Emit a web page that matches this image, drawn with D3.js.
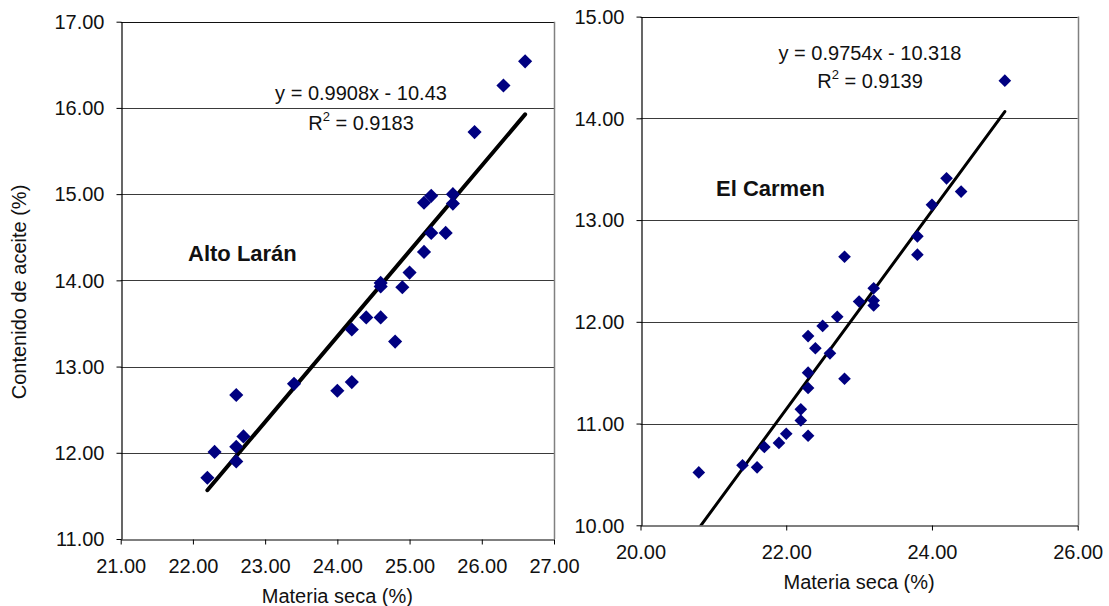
<!DOCTYPE html>
<html>
<head>
<meta charset="utf-8">
<script src="https://cdn.jsdelivr.net/npm/d3@7"></script>
<style>
  html, body { margin: 0; padding: 0; background: #fff; }
  svg { display: block; font-family: "Liberation Sans", Arial, sans-serif; }
</style>
</head>
<body>
<svg id="chart" width="1109" height="606"></svg>
<script>
// Alto Larán: dry matter (%) vs oil content (%)
const altoX = [26.6, 26.3, 25.9, 25.2, 25.3, 25.6, 25.6, 25.3, 25.5, 25.2, 25.0, 24.6, 24.6, 24.9,
               24.4, 24.6, 24.2, 24.8, 23.4, 24.0, 24.2, 22.6, 22.7, 22.6, 22.3, 22.6, 22.2];
const altoY = [16.54, 16.26, 15.72, 14.90, 14.98, 15.00, 14.89, 14.55, 14.55, 14.33, 14.09, 13.97, 13.93, 13.92,
               13.57, 13.57, 13.43, 13.29, 12.80, 12.72, 12.82, 12.67, 12.19, 12.07, 12.01, 11.90, 11.71];
// El Carmen: dry matter (%) vs oil content (%)
const carmenX = [25.0, 24.2, 24.4, 24.0, 23.8, 23.8, 22.8, 23.2, 23.2, 23.2, 23.0, 22.7, 22.5, 22.3,
                 22.4, 22.6, 22.3, 22.8, 22.3, 22.2, 22.2, 22.3, 22.0, 21.9, 21.7, 21.4, 21.6, 20.8];
const carmenY = [14.37, 13.41, 13.28, 13.15, 12.84, 12.66, 12.64, 12.33, 12.21, 12.16, 12.20, 12.05, 11.96, 11.86,
                 11.74, 11.69, 11.50, 11.44, 11.35, 11.14, 11.03, 10.88, 10.90, 10.81, 10.77, 10.59, 10.57, 10.52];

// Linear trend coefficients (slope, intercept) and R²
const altoFit = [0.9908, -10.43, 0.9183];
const carmenFit = [0.9754, -10.318, 0.9139];

// Axis ticks
const altoXTicks = [21, 22, 23, 24, 25, 26, 27];
const altoYTicks = [11, 12, 13, 14, 15, 16, 17];
const carmenXTicks = [20, 22, 24, 26];
const carmenYTicks = [10, 11, 12, 13, 14, 15];

const xTitle = "Materia seca (%)";
const yTitle = "Contenido de aceite (%)";

const svg = d3.select("#chart");
const fmt = d3.format(".2f");
const FONT = 20;

function panel(cfg) {
  const x = d3.scaleLinear().domain(cfg.xDomain).range([cfg.left, cfg.right]);
  const y = d3.scaleLinear().domain(cfg.yDomain).range([cfg.bottom, cfg.top]);
  const g = svg.append("g");

  const clipId = "clip-" + cfg.id;
  g.append("clipPath").attr("id", clipId)
    .append("rect")
    .attr("x", cfg.left).attr("y", cfg.top)
    .attr("width", cfg.right - cfg.left).attr("height", cfg.bottom - cfg.top);

  // horizontal gridlines
  g.append("g").selectAll("line")
    .data(cfg.yTicks.slice(1, -1))
    .join("line")
    .attr("x1", cfg.left).attr("x2", cfg.right)
    .attr("y1", d => Math.round(y(d)) + 0.5).attr("y2", d => Math.round(y(d)) + 0.5)
    .attr("stroke", "#3a3a3a").attr("stroke-width", 1);

  // top and right border
  g.append("line")
    .attr("x1", cfg.left).attr("x2", cfg.right)
    .attr("y1", Math.round(cfg.top) + 0.5).attr("y2", Math.round(cfg.top) + 0.5)
    .attr("stroke", "#111");
  g.append("line")
    .attr("x1", Math.round(cfg.right) + 0.5).attr("x2", Math.round(cfg.right) + 0.5)
    .attr("y1", cfg.top).attr("y2", cfg.bottom)
    .attr("stroke", "#808080").attr("stroke-width", 1.5);

  // axes
  const xAxis = d3.axisBottom(x).tickValues(cfg.xTicks).tickFormat(fmt).tickSizeInner(5).tickSizeOuter(0).tickPadding(14);
  const yAxis = d3.axisLeft(y).tickValues(cfg.yTicks).tickFormat(fmt).tickSizeInner(5).tickSizeOuter(0).tickPadding(12);

  const gx = g.append("g").attr("transform", `translate(0,${Math.round(cfg.bottom) + 0.5})`).call(xAxis);
  const gy = g.append("g").attr("transform", `translate(${Math.round(cfg.left) + 0.5},0)`).call(yAxis);
  [gx, gy].forEach(a => {
    a.select(".domain").attr("stroke", "#000").attr("stroke-width", 1.2);
    a.selectAll(".tick line").attr("stroke", "#000");
    a.selectAll(".tick text").attr("font-size", FONT).attr("font-family", "Liberation Sans, Arial, sans-serif").attr("fill", "#111");
  });
  gx.selectAll(".tick text").attr("dy", "0.71em");
  gy.selectAll(".tick text").attr("dy", "0.34em");

  // x-axis title
  g.append("text")
    .attr("x", (cfg.left + cfg.right) / 2)
    .attr("y", cfg.bottom + 64)
    .attr("text-anchor", "middle")
    .attr("font-size", FONT).attr("fill", "#111")
    .text(xTitle);

  // trend line
  const [m, b] = cfg.fit;
  const xs = d3.extent(cfg.xs);
  g.append("line")
    .attr("clip-path", `url(#${clipId})`)
    .attr("x1", x(xs[0])).attr("y1", y(m * xs[0] + b))
    .attr("x2", x(xs[1])).attr("y2", y(m * xs[1] + b))
    .attr("stroke", "#000").attr("stroke-width", cfg.lineWidth)
    .attr("stroke-linecap", "round");

  // data points as diamonds
  const sym = d3.symbol().type(d3.symbolSquare).size(cfg.markerSize);
  g.append("g").selectAll("path")
    .data(cfg.xs.map((v, i) => [v, cfg.ys[i]]))
    .join("path")
    .attr("d", sym)
    .attr("transform", d => `translate(${x(d[0])},${y(d[1])}) rotate(45)`)
    .attr("fill", "#000080");

  // regression equation and R²
  const eq = g.append("text")
    .attr("x", cfg.eqX).attr("y", cfg.eqY)
    .attr("text-anchor", "middle")
    .attr("font-size", FONT).attr("fill", "#111");
  eq.text(`y = ${m}x - ${Math.abs(b)}`);

  const r2 = g.append("text")
    .attr("x", cfg.eqX).attr("y", cfg.eqY + cfg.eqGap)
    .attr("text-anchor", "middle")
    .attr("font-size", FONT).attr("fill", "#111");
  r2.append("tspan").text("R");
  r2.append("tspan").attr("font-size", 13).attr("dy", -9).text("2");
  r2.append("tspan").attr("dy", 9).text(` = ${cfg.fit[2]}`);

  // site name
  g.append("text")
    .attr("x", cfg.nameX).attr("y", cfg.nameY)
    .attr("font-size", 22).attr("font-weight", "bold").attr("fill", "#111")
    .text(cfg.name);
}

panel({
  id: "alto", name: "Alto Larán",
  xs: altoX, ys: altoY, fit: altoFit,
  xDomain: [21, 27], yDomain: [11, 17],
  xTicks: altoXTicks, yTicks: altoYTicks,
  left: 120.7, right: 554, top: 21.7, bottom: 539,
  eqX: 361, eqY: 100, eqGap: 29.5,
  nameX: 188, nameY: 261,
  markerSize: 100, lineWidth: 4
});

panel({
  id: "carmen", name: "El Carmen",
  xs: carmenX, ys: carmenY, fit: carmenFit,
  xDomain: [20, 26], yDomain: [10, 15],
  xTicks: carmenXTicks, yTicks: carmenYTicks,
  left: 640.5, right: 1077.7, top: 16.6, bottom: 525.3,
  eqX: 870, eqY: 60, eqGap: 28,
  nameX: 716, nameY: 196,
  markerSize: 80, lineWidth: 3
});

// shared y-axis title
svg.append("text")
  .attr("transform", "translate(26,292) rotate(-90)")
  .attr("text-anchor", "middle")
  .attr("font-size", FONT).attr("fill", "#111")
  .text(yTitle);
</script>
</body>
</html>
